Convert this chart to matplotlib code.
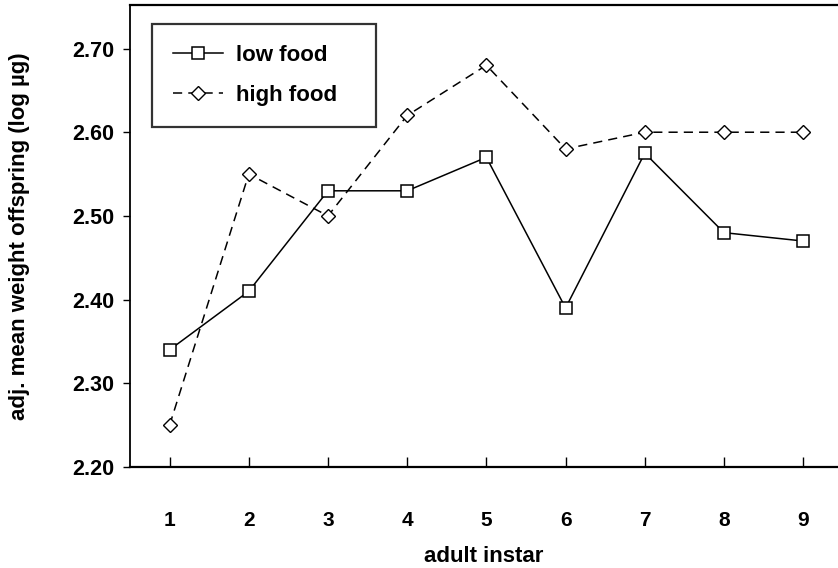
import matplotlib
matplotlib.use("Agg")
import matplotlib.pyplot as plt

# ---------------- data ---------------- #
instar = [1, 2, 3, 4, 5, 6, 7, 8, 9]
low_food = [2.34, 2.41, 2.53, 2.53, 2.57, 2.39, 2.575, 2.48, 2.47]
high_food = [2.25, 2.55, 2.50, 2.62, 2.68, 2.58, 2.60, 2.60, 2.60]
y_ticks = [2.20, 2.30, 2.40, 2.50, 2.60, 2.70]

plt.rcParams['font.family'] = ['Liberation Sans', 'DejaVu Sans']
plt.rcParams['font.weight'] = 'bold'

fig = plt.figure(figsize=(8.38, 5.68), dpi=100)
ax = fig.add_axes([130 / 838, 1 - 467 / 568, 708 / 838, 462 / 568])

ax.plot(instar, low_food, '-', color='black', lw=1.1, marker='s', ms=9,
        mfc='white', mec='black', mew=1.1, label='low food')
ax.plot(instar, high_food, color='black', lw=1.1, dashes=(6, 4), marker='D', ms=7,
        mfc='white', mec='black', mew=1.0, label='high food')

ax.set_xlim(0.5, 9.44)
ax.set_ylim(2.20, 2.752)
ax.set_xticks(instar)
ax.set_yticks(y_ticks)
ax.set_yticklabels([f"{v:.2f}" for v in y_ticks])

ax.spines['right'].set_visible(False)
ax.spines['left'].set_linewidth(1.3)
ax.spines['top'].set_linewidth(1.6)
ax.spines['bottom'].set_linewidth(1.6)

ax.tick_params(axis='x', direction='in', length=7, width=1, pad=32, labelsize=15)
ax.tick_params(axis='y', direction='out', length=5, width=1, pad=6, labelsize=15.5)
for lbl in ax.get_xticklabels() + ax.get_yticklabels():
    lbl.set_fontweight('bold')

ax.set_xlabel('adult instar', fontsize=16, fontweight='bold')
ax.set_ylabel('adj. mean weight offspring (log µg)', fontsize=16, fontweight='bold')
ax.xaxis.set_label_coords(0.5, (467 - 546) / 462)
ax.yaxis.set_label_coords((30 - 130) / 708, 0.5)

leg = ax.legend(loc='upper left', bbox_to_anchor=(22 / 708, 443 / 462 - 0.01, 224 / 708, 0.01),
                mode='expand', borderaxespad=0, fancybox=False, frameon=True,
                fontsize=16, handlelength=2.25, handletextpad=0.6,
                labelspacing=0.85, borderpad=0.95, numpoints=1)
leg.get_frame().set_edgecolor('black')
leg.get_frame().set_linewidth(1.6)
for t in leg.get_texts():
    t.set_fontweight('bold')

fig.savefig('out.png', dpi=100)
